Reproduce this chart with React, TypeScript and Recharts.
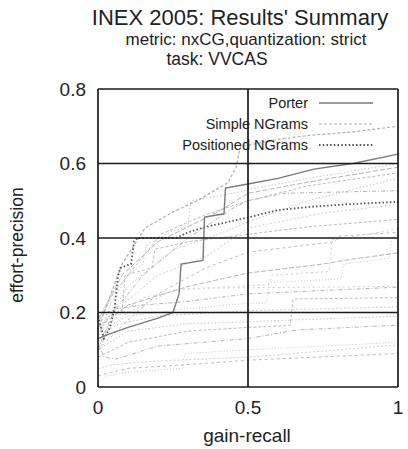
import React from "react";
import { LineChart, Line, XAxis, YAxis, ReferenceLine } from "recharts";

type P = [number, number];

const xTicks = [0, 0.5, 1];
const yTicks = [0, 0.2, 0.4, 0.6, 0.8];

const porter: P[] = [[0, 0.13], [0.03, 0.14], [0.1, 0.16], [0.2, 0.185], [0.25, 0.2], [0.27, 0.25], [0.277, 0.33], [0.35, 0.34], [0.355, 0.456], [0.42, 0.465], [0.425, 0.534], [0.5, 0.545], [0.6, 0.56], [0.72, 0.585], [0.85, 0.6], [1, 0.625]];
const simpleNGrams: P[] = [[0, 0.15], [0.02, 0.2], [0.08, 0.33], [0.157, 0.427], [0.25, 0.47], [0.33, 0.5], [0.433, 0.548], [0.46, 0.59], [0.475, 0.645], [0.6, 0.665], [0.71, 0.676], [0.85, 0.685], [1, 0.7]];
const positionedNGrams: P[] = [[0, 0.19], [0.02, 0.13], [0.04, 0.16], [0.055, 0.21], [0.067, 0.3], [0.075, 0.32], [0.11, 0.33], [0.12, 0.39], [0.13, 0.4], [0.26, 0.4], [0.3, 0.415], [0.36, 0.43], [0.5, 0.455], [0.6, 0.475], [0.7, 0.483], [0.82, 0.49], [1, 0.497]];

const run01: P[] = [[0, 0.17], [0.05, 0.25], [0.15, 0.35], [0.21, 0.41], [0.35, 0.46], [0.5, 0.5], [0.7, 0.54], [1, 0.575]];
const run02: P[] = [[0, 0.14], [0.1, 0.27], [0.25, 0.368], [0.4, 0.41], [0.5, 0.443], [0.7, 0.5], [1, 0.56]];
const run03: P[] = [[0, 0.1], [0.05, 0.2], [0.15, 0.3], [0.3, 0.4], [0.45, 0.48], [0.5, 0.5], [0.62, 0.52], [1, 0.527]];
const run04: P[] = [[0, 0.12], [0.08, 0.22], [0.2, 0.3], [0.36, 0.35], [0.5, 0.427], [0.75, 0.467], [1, 0.49]];
const run05: P[] = [[0, 0.1], [0.1, 0.18], [0.2, 0.25], [0.36, 0.32], [0.5, 0.362], [0.79, 0.39], [0.8, 0.405], [1, 0.415]];
const run06: P[] = [[0, 0.15], [0.1, 0.19], [0.3, 0.21], [0.5, 0.225], [0.56, 0.225], [0.57, 0.28], [0.81, 0.29], [0.82, 0.33], [0.97, 0.345], [0.98, 0.4], [1, 0.41]];
const run07: P[] = [[0, 0.16], [0.1, 0.22], [0.3, 0.27], [0.5, 0.306], [0.75, 0.33], [0.82, 0.34], [1, 0.36]];
const run08: P[] = [[0, 0.12], [0.05, 0.18], [0.15, 0.24], [0.3, 0.265], [1, 0.27]];
const run09: P[] = [[0, 0.08], [0.1, 0.12], [0.3, 0.15], [0.5, 0.16], [0.64, 0.165], [0.65, 0.236], [1, 0.24]];
const run10: P[] = [[0, 0.1], [0.1, 0.15], [0.3, 0.17], [0.5, 0.175], [0.65, 0.18], [1, 0.19]];
const run11: P[] = [[0, 0.12], [0.02, 0.08], [0.06, 0.075], [0.2, 0.11], [0.5, 0.13], [0.66, 0.153], [1, 0.166]];
const run12: P[] = [[0, 0.05], [0.05, 0.06], [0.2, 0.07], [0.5, 0.08], [1, 0.113]];
const run13: P[] = [[0, 0.03], [0.1, 0.05], [0.3, 0.06], [0.5, 0.072], [1, 0.09]];
const run14: P[] = [[0, 0.01], [0.03, 0.03], [0.1, 0.04], [0.28, 0.05], [0.29, 0.09], [0.5, 0.1], [1, 0.12]];
const run15: P[] = [[0, 0.18], [0.08, 0.3], [0.2, 0.39], [0.4, 0.47], [0.5, 0.52], [0.7, 0.55], [1, 0.59]];
const run16: P[] = [[0, 0.13], [0.1, 0.2], [0.25, 0.26], [0.45, 0.27], [0.57, 0.275], [0.58, 0.3], [0.77, 0.31], [0.78, 0.395], [0.9, 0.41], [1, 0.425]];
const run17: P[] = [[0, 0.16], [0.05, 0.2], [0.08, 0.2], [0.09, 0.3], [0.18, 0.32], [0.19, 0.37], [0.3, 0.39], [0.5, 0.41], [0.7, 0.43], [1, 0.45]];
const run18: P[] = [[0, 0.13], [0.04, 0.22], [0.1, 0.3], [0.15, 0.33], [0.16, 0.38], [0.25, 0.42], [0.3, 0.43], [0.31, 0.5], [0.45, 0.52], [0.5, 0.53], [0.7, 0.56], [1, 0.6]];
const run19: P[] = [[0, 0.19], [0.06, 0.21], [0.15, 0.22], [0.3, 0.23], [0.5, 0.25], [1, 0.268]];
const run20: P[] = [[0, 0.09], [0.03, 0.15], [0.07, 0.17], [0.2, 0.19], [0.4, 0.2], [0.5, 0.205], [1, 0.215]];

const background: P[][] = [run01, run02, run03, run04, run05, run06, run07, run08, run09, run10, run11, run12, run13, run14, run15, run16, run17, run18, run19, run20];
const bgDashes = ["3 2", "1.5 2", "4 2 1 2", "2 2", "3 3", "1 2", "5 2", "2 3"];
const bgColors = ["#bdbdbd", "#c8c8c8", "#b5b5b5", "#cfcfcf"];

const toRows = (pts: P[]) => pts.map(([x, y]) => ({ x, y }));

const FONT = "'Liberation Sans', Arial, Helvetica, sans-serif";

export default function App() {
  return (
    <div style={{ position: "absolute", left: 0, top: 0, width: 408, height: 449, background: "#fff", fontFamily: FONT }}>
      <LineChart width={408} height={449} margin={{ top: 89, right: 10, bottom: 0, left: 0 }}>
        <XAxis
          dataKey="x"
          type="number"
          domain={[0, 1]}
          ticks={xTicks}
          tickFormatter={(v: number) => String(v)}
          axisLine={false}
          tickLine={false}
          tickSize={0}
          tickMargin={14}
          height={62}
          tick={{ fill: "#222", fontSize: 19, fontFamily: FONT }}
          allowDuplicatedCategory={false}
        />
        <YAxis
          dataKey="y"
          type="number"
          domain={[0, 0.8]}
          ticks={yTicks}
          tickFormatter={(v: number) => String(v)}
          axisLine={false}
          tickLine={false}
          tickSize={0}
          tickMargin={12}
          width={98}
          tick={{ fill: "#222", fontSize: 19, fontFamily: FONT }}
        />
        {background.map((pts, i) => (
          <Line
            key={"bg" + i}
            data={toRows(pts)}
            dataKey="y"
            type="linear"
            dot={false}
            activeDot={false}
            stroke={bgColors[i % bgColors.length]}
            strokeWidth={1}
            strokeDasharray={bgDashes[i % bgDashes.length]}
            isAnimationActive={false}
          />
        ))}
        <Line data={toRows(simpleNGrams)} dataKey="y" type="linear" dot={false} activeDot={false} stroke="#b0b0b0" strokeWidth={1.2} strokeDasharray="3 2" isAnimationActive={false} />
        <Line data={toRows(positionedNGrams)} dataKey="y" type="linear" dot={false} activeDot={false} stroke="#555" strokeWidth={1.8} strokeDasharray="1.5 2.2" isAnimationActive={false} />
        <Line data={toRows(porter)} dataKey="y" type="linear" dot={false} activeDot={false} stroke="#7a7a7a" strokeWidth={1.4} isAnimationActive={false} />
        {xTicks.map((v) => (
          <ReferenceLine key={"vx" + v} x={v} stroke="#1a1a1a" strokeWidth={1.7} />
        ))}
        {yTicks.map((v) => (
          <ReferenceLine key={"hy" + v} y={v} stroke="#1a1a1a" strokeWidth={1.7} />
        ))}
      </LineChart>
      <svg width={408} height={449} style={{ position: "absolute", left: 0, top: 0, pointerEvents: "none" }}>
        <g fontFamily={FONT} fill="#222">
          <text x={240} y={25} fontSize={22} textAnchor="middle">INEX 2005: Results' Summary</text>
          <text x={246} y={45} fontSize={17} textAnchor="middle">metric: nxCG,quantization: strict</text>
          <text x={217} y={65} fontSize={17.5} textAnchor="middle">task: VVCAS</text>
          <text x={247} y={442} fontSize={19} textAnchor="middle">gain-recall</text>
          <text x={0} y={0} fontSize={17.5} textAnchor="middle" transform="translate(23,245) rotate(-90)">effort-precision</text>
          <text x={308} y={108} fontSize={14.5} textAnchor="end">Porter</text>
          <text x={308} y={129} fontSize={14.5} textAnchor="end">Simple NGrams</text>
          <text x={308} y={150} fontSize={14.5} textAnchor="end">Positioned NGrams</text>
        </g>
        <line x1={319} x2={373} y1={103} y2={103} stroke="#7a7a7a" strokeWidth={1.4} />
        <line x1={319} x2={373} y1={124} y2={124} stroke="#b0b0b0" strokeWidth={1.2} strokeDasharray="3 2" />
        <line x1={319} x2={373} y1={145} y2={145} stroke="#555" strokeWidth={1.8} strokeDasharray="1.5 2.2" />
      </svg>
    </div>
  );
}
